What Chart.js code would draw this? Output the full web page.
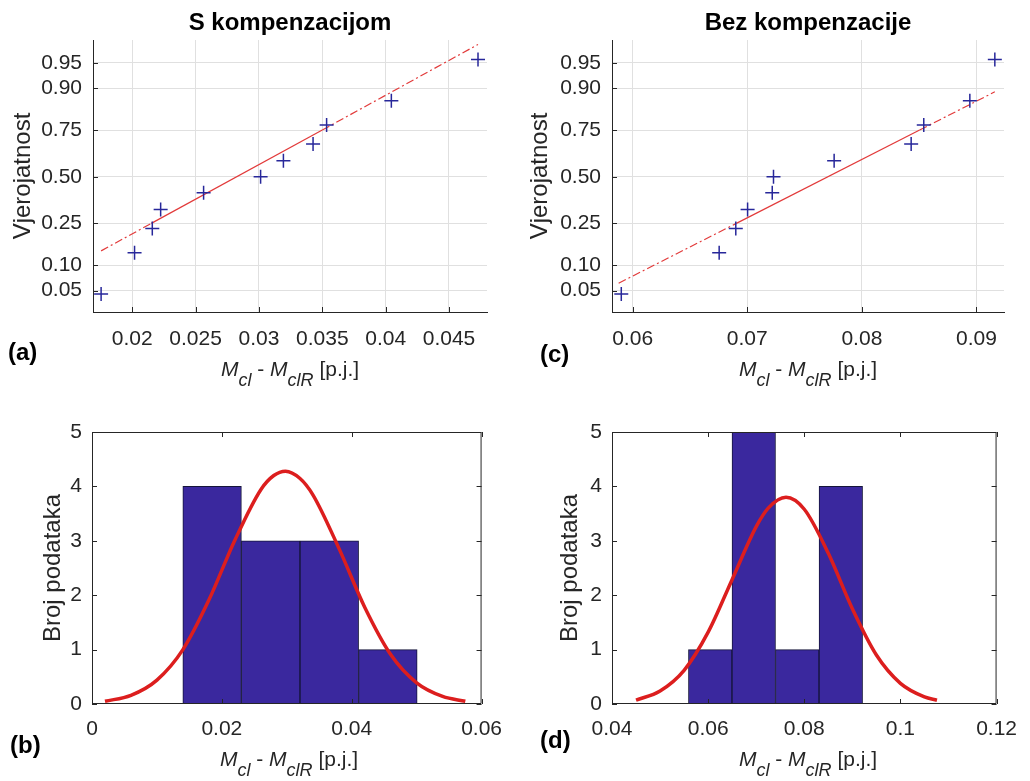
<!DOCTYPE html>
<html>
<head>
<meta charset="utf-8">
<script src="https://cdn.jsdelivr.net/npm/chart.js@4.4.0/dist/chart.umd.min.js"></script>
<style>
  body { margin: 0; background: #fff; width: 1030px; height: 781px; position: relative; overflow: hidden;
         font-family: 'Liberation Sans', Arial, sans-serif; color: #262626; }
  canvas { position: absolute; }
  .title { position: absolute; font-weight: bold; font-size: 24px; line-height: 24px; color: #000;
           white-space: nowrap; transform: translateX(-50%); }
  .panel { position: absolute; font-weight: bold; font-size: 24px; line-height: 24px; color: #000; }
  .xtitle { position: absolute; font-size: 21px; line-height: 22px; white-space: nowrap;
            transform: translateX(-50%); color: #262626; }
  .xtitle sub { font-size: 18px; line-height: 0; vertical-align: -10px; }
</style>
</head>
<body>
<canvas id="chartA" width="515" height="395" style="left:0;top:0"></canvas>
<canvas id="chartC" width="515" height="395" style="left:515px;top:0"></canvas>
<canvas id="chartB" width="515" height="386" style="left:0;top:395px"></canvas>
<canvas id="chartD" width="515" height="386" style="left:515px;top:395px"></canvas>

<div class="title" style="left:290px;top:10px">S kompenzacijom</div>
<div class="title" style="left:808px;top:10px">Bez kompenzacije</div>

<div class="panel" style="left:8px;top:340px">(a)</div>
<div class="panel" style="left:540px;top:342px">(c)</div>
<div class="panel" style="left:10px;top:733px">(b)</div>
<div class="panel" style="left:540px;top:728px">(d)</div>

<div class="xtitle" style="left:290px;top:358px"><i>M</i><sub><i>cl</i></sub> - <i>M</i><sub><i>clR</i></sub> [p.j.]</div>
<div class="xtitle" style="left:808px;top:358px"><i>M</i><sub><i>cl</i></sub> - <i>M</i><sub><i>clR</i></sub> [p.j.]</div>
<div class="xtitle" style="left:289px;top:748px"><i>M</i><sub><i>cl</i></sub> - <i>M</i><sub><i>clR</i></sub> [p.j.]</div>
<div class="xtitle" style="left:808px;top:748px"><i>M</i><sub><i>cl</i></sub> - <i>M</i><sub><i>clR</i></sub> [p.j.]</div>

<script>
// Normal probability plots (top) and histograms with normal fit (bottom)

// --- data ---
const probTicks = [0.05, 0.10, 0.25, 0.50, 0.75, 0.90, 0.95];
const probLevels = [0.045, 0.136, 0.227, 0.318, 0.409, 0.500, 0.591, 0.682, 0.773, 0.864, 0.955];

// S kompenzacijom
const compX = [0.01754, 0.02018, 0.02158, 0.02224, 0.02563, 0.03013, 0.03193, 0.03427, 0.03534, 0.04045, 0.04729];
const compFitX = [0.01754, 0.0215, 0.0350, 0.04729];
const compFitP = [0.142, 0.25, 0.75, 0.972];
const compBinCenters = [0.01850, 0.02752, 0.03655, 0.04557];
const compCounts = [4, 3, 3, 1];
const compCurveX = [0.002, 0.006, 0.010, 0.014, 0.018, 0.022, 0.026, 0.028, 0.0298, 0.032, 0.034, 0.038, 0.042, 0.046, 0.050, 0.054, 0.0575];
const compCurveY = [0.05, 0.16, 0.44, 1.00, 1.91, 3.01, 3.94, 4.20, 4.28, 4.15, 3.85, 2.87, 1.78, 0.91, 0.39, 0.14, 0.05];

// Bez kompenzacije
const noCompX = [0.05901, 0.06755, 0.06900, 0.07003, 0.07218, 0.07229, 0.07758, 0.08430, 0.08540, 0.08942, 0.09160];
const noCompFitX = [0.05878, 0.06905, 0.08504, 0.0916];
const noCompFitP = [0.062, 0.25, 0.75, 0.890];
const noCompBinCenters = [0.06043, 0.06949, 0.07854, 0.08760];
const noCompCounts = [1, 5, 1, 4];
const noCompCurveX = [0.045, 0.050, 0.055, 0.060, 0.065, 0.070, 0.0725, 0.0762, 0.080, 0.085, 0.090, 0.095, 0.100, 0.105, 0.1076];
const noCompCurveY = [0.07, 0.24, 0.62, 1.32, 2.29, 3.26, 3.60, 3.80, 3.58, 2.77, 1.75, 0.90, 0.38, 0.13, 0.07];

const FONT = "'Liberation Sans', Arial, sans-serif";
const AXIS = '#262626';
Chart.defaults.font.family = FONT;
Chart.defaults.color = AXIS;

// inverse normal CDF (Acklam) used by the probability scale
function probit(p) {
    const a = [-39.69683028665376, 220.9460984245205, -275.9285104469687, 138.3577518672690, -30.66479806614716, 2.506628277459239];
    const b = [-54.47609879822406, 161.5858368580409, -155.6989798598866, 66.80131188771972, -13.28068155288572];
    const c = [-0.007784894002430293, -0.3223964580411365, -2.400758277161838, -2.549732539343734, 4.374664141464968, 2.938163982698783];
    const d = [0.007784695709041462, 0.3224671290700398, 2.445134137142996, 3.754408661907416];
    const tail = q => (((((c[0] * q + c[1]) * q + c[2]) * q + c[3]) * q + c[4]) * q + c[5]) /
                      ((((d[0] * q + d[1]) * q + d[2]) * q + d[3]) * q + 1);
    if (p < 0.02425) return tail(Math.sqrt(-2 * Math.log(p)));
    if (p > 0.97575) return -tail(Math.sqrt(-2 * Math.log(1 - p)));
    const q = p - 0.5, r = q * q;
    return (((((a[0] * r + a[1]) * r + a[2]) * r + a[3]) * r + a[4]) * r + a[5]) * q /
           (((((b[0] * r + b[1]) * r + b[2]) * r + b[3]) * r + b[4]) * r + 1);
}

class ProbitScale extends Chart.LinearScale {
    determineDataLimits() {
        this.min = probit(this.options.min);
        this.max = probit(this.options.max);
    }
    buildTicks() {
        return probTicks.map(v => ({ value: v }));
    }
    getPixelForValue(value) {
        return value === null ? NaN : super.getPixelForValue(probit(value));
    }
}
ProbitScale.id = 'probit';
ProbitScale.defaults = Chart.LinearScale.defaults;
Chart.register(ProbitScale);

// box outline and inward tick marks, like the original figure
const framePlugin = {
    id: 'frame',
    afterDraw(chart, args, opts) {
        const { ctx, chartArea: a, scales: { x, y } } = chart;
        const len = 5;
        ctx.save();
        ctx.strokeStyle = AXIS;
        ctx.lineWidth = 1;
        ctx.beginPath();
        if (opts.box) ctx.rect(a.left + 0.5, a.top + 0.5, a.width - 1, a.height - 1);
        x.ticks.forEach(t => {
            const px = Math.round(x.getPixelForValue(t.value)) + 0.5;
            ctx.moveTo(px, a.bottom); ctx.lineTo(px, a.bottom - len);
            if (opts.box) { ctx.moveTo(px, a.top); ctx.lineTo(px, a.top + len); }
        });
        y.ticks.forEach(t => {
            const py = Math.round(y.getPixelForValue(t.value)) + 0.5;
            ctx.moveTo(a.left, py); ctx.lineTo(a.left + len, py);
            if (opts.box) { ctx.moveTo(a.right, py); ctx.lineTo(a.right - len, py); }
        });
        ctx.stroke();
        ctx.restore();
    }
};

const fmt = v => String(Number(v.toFixed(4)));

function probPlot(id, xs, fitX, fitP, xMin, xMax, xStep, layout) {
    const pts = xs.map((x, i) => ({ x, y: probLevels[i] }));
    const fit = fitX.map((x, i) => ({ x, y: fitP[i] }));
    const lineStyle = { showLine: true, pointRadius: 0, borderColor: '#e23a3a', borderWidth: 1.2, fill: false };
    return new Chart(document.getElementById(id), {
        type: 'scatter',
        data: {
            datasets: [
                { data: pts, pointStyle: 'cross', pointRadius: 7, borderColor: '#27279a', borderWidth: 1.5, order: 0 },
                { ...lineStyle, data: fit.slice(0, 2), borderDash: [8, 3, 2, 3], order: 1 },
                { ...lineStyle, data: fit.slice(1, 3), order: 1 },
                { ...lineStyle, data: fit.slice(2, 4), borderDash: [8, 3, 2, 3], order: 1 }
            ]
        },
        options: {
            responsive: false,
            animation: false,
            devicePixelRatio: 1,
            events: [],
            layout: { padding: { left: 0, top: 40, right: layout.right, bottom: 0 } },
            plugins: { legend: { display: false }, tooltip: { enabled: false }, frame: { box: false } },
            scales: {
                x: {
                    type: 'linear', min: xMin, max: xMax,
                    grid: { color: '#e0e0e0', drawTicks: false },
                    border: { color: AXIS },
                    ticks: { stepSize: xStep, includeBounds: false, autoSkip: false, padding: 15,
                             font: { size: 21 }, color: AXIS, callback: fmt },
                    afterFit: s => { s.height = 83; }
                },
                y: {
                    type: 'probit', min: 0.0253, max: 0.9759,
                    grid: { color: '#e0e0e0', drawTicks: false },
                    border: { color: AXIS },
                    ticks: { autoSkip: false, padding: 11, font: { size: 21 }, color: AXIS,
                             callback: v => v.toFixed(2) },
                    title: { display: true, text: 'Vjerojatnost', font: { size: 24 }, color: AXIS,
                             padding: { top: layout.titlePad, bottom: 0 } },
                    afterFit: s => { s.width = layout.yWidth; }
                }
            }
        },
        plugins: [framePlugin]
    });
}

function histPlot(id, centers, counts, curveX, curveY, xMin, xMax, layout) {
    return new Chart(document.getElementById(id), {
        type: 'bar',
        data: {
            datasets: [
                {
                    type: 'line',
                    data: curveX.map((x, i) => ({ x, y: curveY[i] })),
                    borderColor: '#dc1e1e', borderWidth: 3.5, pointRadius: 0,
                    cubicInterpolationMode: 'monotone', fill: false, order: 0
                },
                {
                    type: 'bar',
                    data: centers.map((x, i) => ({ x, y: counts[i] })),
                    backgroundColor: '#3a289e', borderColor: '#15153a', borderWidth: 1,
                    barPercentage: 1, categoryPercentage: 1, borderSkipped: false, order: 1
                }
            ]
        },
        options: {
            responsive: false,
            animation: false,
            devicePixelRatio: 1,
            events: [],
            layout: { padding: { left: 0, top: 37, right: layout.right, bottom: 0 } },
            plugins: { legend: { display: false }, tooltip: { enabled: false }, frame: { box: true } },
            scales: {
                x: {
                    type: 'linear', min: xMin, max: xMax, offset: false,
                    grid: { display: false, offset: false, drawTicks: false },
                    border: { display: false },
                    ticks: { stepSize: 0.02, autoSkip: false, padding: 13, font: { size: 21 }, color: AXIS, callback: fmt },
                    afterFit: s => { s.height = 77; }
                },
                y: {
                    type: 'linear', min: 0, max: 5,
                    grid: { display: false, drawTicks: false },
                    border: { display: false },
                    ticks: { stepSize: 1, autoSkip: false, padding: 10, font: { size: 21 }, color: AXIS },
                    title: { display: true, text: 'Broj podataka', font: { size: 24 }, color: AXIS,
                             padding: { top: layout.titlePad, bottom: 0 } },
                    afterFit: s => { s.width = layout.yWidth; }
                }
            }
        },
        plugins: [framePlugin]
    });
}

probPlot('chartA', compX, compFitX, compFitP, 0.0169, 0.0480, 0.005, { right: 28, yWidth: 93, titlePad: 9 });
probPlot('chartC', noCompX, noCompFitX, noCompFitP, 0.0582, 0.0924, 0.01, { right: 26, yWidth: 97, titlePad: 11 });
histPlot('chartB', compBinCenters, compCounts, compCurveX, compCurveY, 0, 0.06, { right: 29, yWidth: 92, titlePad: 39 });
histPlot('chartD', noCompBinCenters, noCompCounts, noCompCurveX, noCompCurveY, 0.04, 0.12, { right: 26, yWidth: 97, titlePad: 41 });
</script>
</body>
</html>
